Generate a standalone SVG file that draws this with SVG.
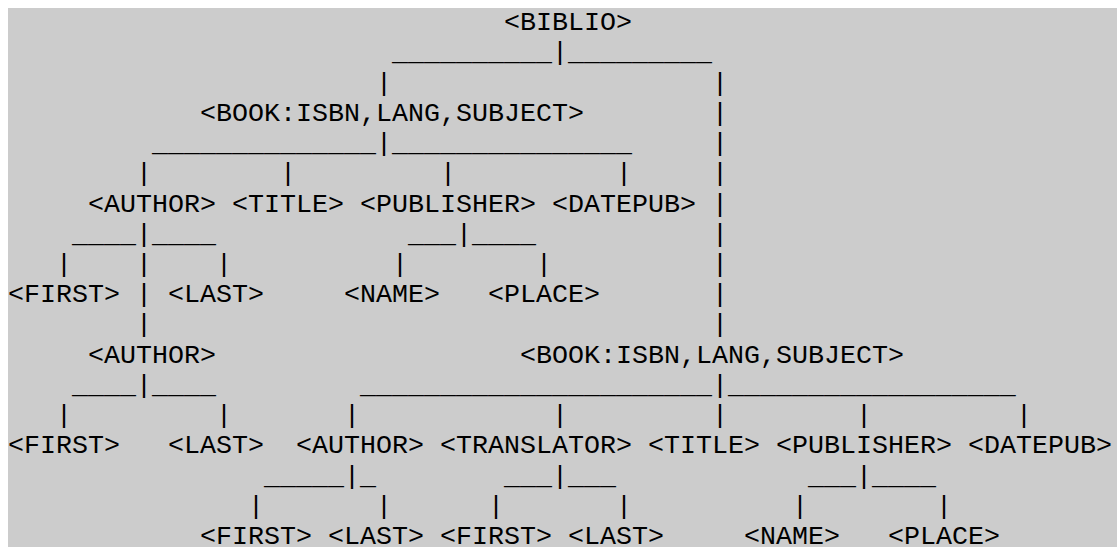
<svg xmlns="http://www.w3.org/2000/svg" width="1117" height="547" viewBox="0 0 1117 547">
<style>
text{font-family:"Liberation Mono","DejaVu Sans Mono",monospace;font-size:26.667px;fill:#000;white-space:pre}
</style>
<rect x="0" y="0" width="1117" height="547" fill="#ffffff"/>
<rect x="8" y="8" width="1109" height="539" fill="#cccccc"/>
<g id="connectors">
<text x="392" y="60.4">__________|_________</text>
<text x="376" y="90.6">|</text><text x="712" y="90.6">|</text>
<text x="712" y="120.9">|</text>
<text x="152" y="151.1">______________|_______________</text><text x="712" y="151.1">|</text>
<text x="136" y="181.3">|</text><text x="280" y="181.3">|</text><text x="440" y="181.3">|</text><text x="616" y="181.3">|</text><text x="712" y="181.3">|</text>
<text x="712" y="211.5">|</text>
<text x="72" y="241.7">____|____</text><text x="408" y="241.7">___|____</text><text x="712" y="241.7">|</text>
<text x="56" y="272">|</text><text x="136" y="272">|</text><text x="216" y="272">|</text><text x="392" y="272">|</text><text x="536" y="272">|</text><text x="712" y="272">|</text>
<text x="136" y="302.2">|</text><text x="712" y="302.2">|</text>
<text x="136" y="332.4">|</text><text x="712" y="332.4">|</text>
<text x="72" y="392.8">____|____</text><text x="360" y="392.8">______________________|__________________</text>
<text x="56" y="423.1">|</text><text x="216" y="423.1">|</text><text x="344" y="423.1">|</text><text x="552" y="423.1">|</text><text x="712" y="423.1">|</text><text x="856" y="423.1">|</text><text x="1016" y="423.1">|</text>
<text x="264" y="483.5">_____|_</text><text x="504" y="483.5">___|___</text><text x="808" y="483.5">___|____</text>
<text x="248" y="513.7">|</text><text x="376" y="513.7">|</text><text x="488" y="513.7">|</text><text x="616" y="513.7">|</text><text x="792" y="513.7">|</text><text x="936" y="513.7">|</text>
</g>
<g id="biblio"><text x="504" y="30.2">&lt;BIBLIO&gt;</text></g>
<g id="book1"><text x="200" y="120.9">&lt;BOOK:ISBN,LANG,SUBJECT&gt;</text></g>
<g id="author1"><text x="88" y="211.5">&lt;AUTHOR&gt;</text></g>
<g id="title1"><text x="232" y="211.5">&lt;TITLE&gt;</text></g>
<g id="publisher1"><text x="360" y="211.5">&lt;PUBLISHER&gt;</text></g>
<g id="datepub1"><text x="552" y="211.5">&lt;DATEPUB&gt;</text></g>
<g id="first1"><text x="8" y="302.2">&lt;FIRST&gt;</text></g>
<g id="last1"><text x="168" y="302.2">&lt;LAST&gt;</text></g>
<g id="name1"><text x="344" y="302.2">&lt;NAME&gt;</text></g>
<g id="place1"><text x="488" y="302.2">&lt;PLACE&gt;</text></g>
<g id="author2"><text x="88" y="362.6">&lt;AUTHOR&gt;</text></g>
<g id="book2"><text x="520" y="362.6">&lt;BOOK:ISBN,LANG,SUBJECT&gt;</text></g>
<g id="first2"><text x="8" y="453.3">&lt;FIRST&gt;</text></g>
<g id="last2"><text x="168" y="453.3">&lt;LAST&gt;</text></g>
<g id="author3"><text x="296" y="453.3">&lt;AUTHOR&gt;</text></g>
<g id="translator"><text x="440" y="453.3">&lt;TRANSLATOR&gt;</text></g>
<g id="title2"><text x="648" y="453.3">&lt;TITLE&gt;</text></g>
<g id="publisher2"><text x="776" y="453.3">&lt;PUBLISHER&gt;</text></g>
<g id="datepub2"><text x="968" y="453.3">&lt;DATEPUB&gt;</text></g>
<g id="first3"><text x="200" y="543.9">&lt;FIRST&gt;</text></g>
<g id="last3"><text x="328" y="543.9">&lt;LAST&gt;</text></g>
<g id="first4"><text x="440" y="543.9">&lt;FIRST&gt;</text></g>
<g id="last4"><text x="568" y="543.9">&lt;LAST&gt;</text></g>
<g id="name2"><text x="744" y="543.9">&lt;NAME&gt;</text></g>
<g id="place2"><text x="888" y="543.9">&lt;PLACE&gt;</text></g>
</svg>
